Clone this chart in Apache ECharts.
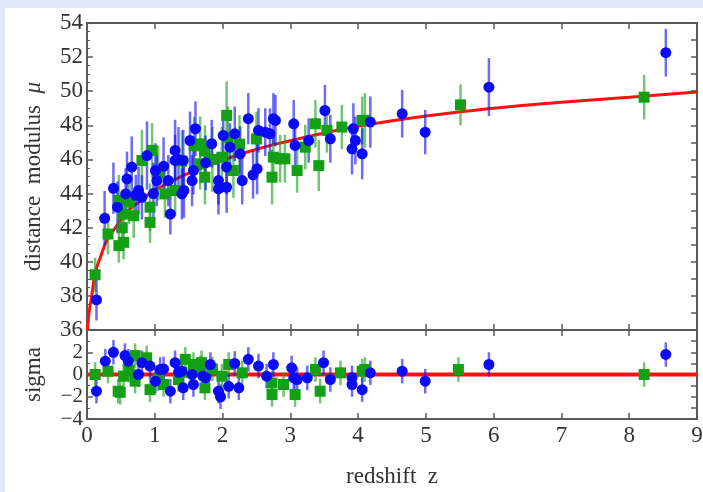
<!DOCTYPE html>
<html>
<head>
<meta charset="utf-8">
<script src="https://cdn.jsdelivr.net/npm/echarts@6/dist/echarts.min.js"></script>
<style>
	body { margin: 0; background: #e0e8f8; }
	#main { width: 703px; height: 492px; }
</style>
</head>
<body>
<div id="main"></div>
<script>
// 上图：距离模数  z / mu / err
var blueTopZ   = [0.14, 0.26, 0.39, 0.45, 0.57, 0.59, 0.66, 0.76, 0.72, 0.81, 0.885, 0.98, 1.01, 1.03, 1.13, 1.20, 1.23, 1.30, 1.30, 1.35, 1.40, 1.42, 1.43, 1.52, 1.55, 1.57, 1.60, 1.75, 1.84, 1.94, 1.94, 2.01, 2.06, 2.06, 2.11, 2.18, 2.26, 2.29, 2.38, 2.45, 2.51, 2.53, 2.63, 2.70, 2.75, 2.78, 3.05, 3.07, 3.27, 3.51, 3.59, 3.93, 3.96, 3.91, 4.06, 4.18, 4.65, 4.99, 5.93, 8.54];
var blueTopMu  = [37.76, 42.55, 44.31, 43.2, 43.98, 44.86, 45.55, 44.18, 43.9, 43.78, 46.23, 44.0, 45.35, 44.76, 45.6, 44.76, 42.8, 46.53, 45.94, 46.0, 43.98, 45.94, 44.18, 47.11, 44.76, 45.35, 47.8, 45.8, 46.92, 44.76, 44.27, 47.41, 45.55, 44.37, 46.72, 47.5, 46.33, 44.76, 48.39, 45.1, 45.45, 47.7, 47.6, 47.5, 48.39, 48.29, 48.09, 46.82, 47.11, 48.87, 47.21, 47.8, 47.11, 46.62, 46.33, 48.19, 48.68, 47.6, 50.24, 52.26];
var blueTopErr = [1.2, 1.6, 1.5, 1.5, 1.5, 1.6, 1.8, 1.4, 1.2, 1.3, 2.0, 1.8, 1.6, 1.5, 1.7, 1.5, 1.2, 1.8, 1.5, 1.9, 1.5, 1.8, 1.6, 1.7, 1.5, 1.4, 1.6, 1.6, 1.4, 1.4, 1.5, 1.5, 1.6, 1.5, 1.4, 1.6, 1.6, 1.4, 1.5, 1.4, 1.5, 1.3, 1.4, 1.5, 1.5, 1.5, 1.4, 1.3, 1.3, 1.5, 1.4, 1.5, 1.4, 1.5, 1.5, 1.5, 1.4, 1.3, 1.7, 1.4];

var greenTopZ   = [0.12, 0.31, 0.47, 0.47, 0.54, 0.52, 0.54, 0.62, 0.69, 0.81, 0.93, 0.93, 0.96, 1.05, 1.15, 1.30, 1.40, 1.58, 1.67, 1.67, 1.74, 1.74, 1.85, 2.06, 1.99, 2.16, 2.08, 2.25, 2.50, 2.75, 2.73, 2.85, 2.92, 3.10, 3.22, 3.37, 3.54, 3.42, 3.76, 4.06, 4.10, 5.51, 8.22];
var greenTopMu  = [39.24, 41.63, 43.6, 40.95, 41.14, 42.0, 42.8, 43.5, 42.7, 45.94, 42.31, 43.2, 46.53, 45.2, 43.98, 44.18, 45.9, 46.8, 46.91, 45.74, 44.96, 46.5, 46.0, 48.58, 46.13, 45.35, 47.3, 46.9, 47.2, 46.13, 44.96, 46.04, 46.04, 45.35, 46.72, 48.09, 47.7, 45.64, 47.9, 48.29, 48.29, 49.2, 49.65];
var greenTopErr = [1.0, 1.2, 1.5, 1.0, 1.0, 1.2, 1.2, 1.3, 1.3, 1.8, 1.2, 1.4, 1.6, 1.6, 1.4, 1.5, 1.8, 1.7, 1.6, 1.5, 1.6, 1.5, 1.9, 2.0, 1.8, 1.6, 1.8, 1.7, 1.6, 1.5, 1.6, 1.4, 1.4, 1.3, 1.3, 1.4, 1.3, 1.5, 1.3, 1.4, 1.6, 1.2, 1.3];

// 红线：拟合曲线
var modelZ  = [0.005, 0.03, 0.07, 0.12, 0.2, 0.3, 0.42, 0.6, 0.8, 1.0, 1.5, 2.0, 2.5, 3.0, 3.5, 4.0, 5.0, 6.0, 7.0, 8.0, 9.0];
var modelMu = [36.0, 37.0, 38.0, 39.3, 40.3, 41.3, 42.0, 42.95, 43.6, 44.2, 45.2, 45.95, 46.6, 47.1, 47.55, 47.95, 48.55, 49.0, 49.35, 49.65, 49.95];

// 下图：sigma
var blueSigZ = [0.14, 0.27, 0.39, 0.56, 0.61, 0.76, 0.81, 0.93, 1.01, 1.08, 1.13, 1.23, 1.30, 1.35, 1.40, 1.42, 1.55, 1.57, 1.71, 1.75, 1.82, 1.94, 1.97, 2.09, 2.18, 2.24, 2.38, 2.53, 2.65, 2.75, 3.02, 3.05, 3.10, 3.25, 3.49, 3.59, 3.91, 3.91, 4.06, 4.18, 4.65, 4.99, 5.93, 8.54];
var blueSig  = [-1.5, 1.2, 2.0, 1.7, 1.2, 0.0, 1.06, 0.76, -0.6, 0.45, 0.5, -1.5, 1.06, 0.2, 0.3, -1.2, 0.0, -0.9, -0.15, -0.3, 0.9, -1.5, -2.0, -1.06, 1.0, -1.2, 1.36, 0.76, -0.15, 0.9, 0.6, -0.3, -0.45, -0.3, 1.06, -0.45, -0.9, -0.3, -1.36, 0.15, 0.3, -0.6, 0.9, 1.8];
var greenSigZ = [0.12, 0.31, 0.46, 0.49, 0.54, 0.62, 0.71, 0.71, 0.88, 0.93, 1.05, 1.13, 1.35, 1.40, 1.45, 1.57, 1.67, 1.69, 1.74, 1.85, 1.99, 2.09, 2.29, 2.73, 2.73, 2.90, 3.07, 3.37, 3.44, 3.74, 4.06, 4.10, 5.48, 8.22];
var greenSig  = [0.0, 0.3, -1.5, -1.6, -0.15, 0.4, 1.7, -0.6, 1.5, -1.36, -0.4, -0.9, -0.45, 0.2, 1.36, 0.9, 0.6, 1.06, -1.2, 0.5, -0.15, 0.9, 0.15, -0.76, -1.8, -0.9, -1.8, 0.45, -1.5, 0.15, 0.3, 0.45, 0.45, 0.0];
var sigmaErr = 1.1;
var sigmaLabels = [-4, -2, 0, 2];

var xTicks = [0, 1, 2, 3, 4, 5, 6, 7, 8, 9];

function pack3(a, b, c) {
	var out = [];
	for (var i = 0; i < a.length; i++) {
		out.push([a[i], b[i], typeof c === 'number' ? c : c[i]]);
	}
	return out;
}

var blueTop = pack3(blueTopZ, blueTopMu, blueTopErr);
var greenTop = pack3(greenTopZ, greenTopMu, greenTopErr);
var blueSigData = pack3(blueSigZ, blueSig, sigmaErr);
var greenSigData = pack3(greenSigZ, greenSig, sigmaErr);
var modelData = modelZ.map(function (z, i) { return [z, modelMu[i]]; });

var BLUE = '#0a0af5';
var GREEN = '#14a014';
var FRAME = '#5a5a5a';
var TEXT = '#333';
var FONT = '"Liberation Serif", "DejaVu Serif", serif';

// 误差棒
function errBars(data, color, xi, yi) {
	return {
		type: 'custom',
		xAxisIndex: xi,
		yAxisIndex: yi,
		data: data,
		z: 3,
		renderItem: function (params, api) {
			var z = api.value(0), v = api.value(1), e = api.value(2);
			var p1 = api.coord([z, v - e]);
			var p2 = api.coord([z, v + e]);
			return {
				type: 'line',
				shape: { x1: p1[0], y1: p1[1], x2: p2[0], y2: p2[1] },
				style: { stroke: color, lineWidth: 2.5, opacity: 0.6 }
			};
		},
		encode: { x: 0, y: 1 }
	};
}

function dots(data, color, symbol, xi, yi) {
	return {
		type: 'scatter',
		xAxisIndex: xi,
		yAxisIndex: yi,
		data: data,
		symbol: symbol,
		symbolSize: 11,
		itemStyle: { color: color, opacity: 1 },
		encode: { x: 0, y: 1 },
		z: 4
	};
}

function xAx(grid, pos, labels) {
	return {
		type: 'value', gridIndex: grid, position: pos, min: 0, max: 9, interval: 1,
		axisLine: { show: true, onZero: false, lineStyle: { color: FRAME, width: 2 } },
		axisTick: { show: true, inside: true, length: 6, lineStyle: { color: FRAME, width: 1.5 } },
		axisLabel: { show: labels, color: TEXT, fontSize: 23, fontFamily: FONT, margin: 5,
			showMinLabel: true, showMaxLabel: true,
			formatter: function (v) { return xTicks.indexOf(v) >= 0 ? String(v) : ''; } },
		splitLine: { show: false }
	};
}

function yAx(grid, pos, min, max, interval, labels, minorSplit) {
	return {
		type: 'value', gridIndex: grid, position: pos, min: min, max: max, interval: interval,
		axisLine: { show: true, onZero: false, lineStyle: { color: FRAME, width: 2 } },
		axisTick: { show: true, inside: true, length: 6, lineStyle: { color: FRAME, width: 1.5 } },
		minorTick: { show: minorSplit > 0, splitNumber: minorSplit || 1, length: 3, lineStyle: { color: FRAME, width: 1 } },
		axisLabel: { show: labels, color: TEXT, fontSize: 23, fontFamily: FONT, margin: 4,
			showMinLabel: true, showMaxLabel: true, hideOverlap: false },
		splitLine: { show: false }
	};
}

var myChart = echarts.init(document.getElementById('main'));

var yTop = yAx(0, 'left', 36, 54, 2, true, 4);
yTop.name = 'distance  modulus  {i|\u03bc}';
yTop.nameLocation = 'middle';
yTop.nameGap = 42;
yTop.nameTextStyle = { color: TEXT, fontSize: 23, fontFamily: FONT,
	rich: { i: { fontStyle: 'italic', color: TEXT, fontSize: 23, fontFamily: FONT } } };

var ySig = yAx(1, 'left', -4, 4, 2, true, 2);
ySig.axisLabel.customValues = sigmaLabels;
ySig.axisLabel.fontSize = 21;
ySig.axisLabel.formatter = function (v) {
	return v < 0 ? '\u2212' + (-v) : String(v);
};
ySig.name = 'sigma';
ySig.nameLocation = 'middle';
ySig.nameGap = 42;
ySig.nameTextStyle = { color: TEXT, fontSize: 23, fontFamily: FONT };

var xBottom = xAx(1, 'bottom', true);
xBottom.name = 'redshift  z';
xBottom.nameLocation = 'middle';
xBottom.nameGap = 46;
xBottom.nameTextStyle = { color: TEXT, fontSize: 23, fontFamily: FONT };

var option = {
	animation: false,
	backgroundColor: '#e0e8f8',
	graphic: {
		z: -10,
		elements: [{ type: 'rect', left: 5, top: 8, z: -10, shape: { width: 698, height: 484 }, style: { fill: '#fff' } }]
	},
	grid: [
		{ left: 87, top: 23, width: 610, height: 307, outerBoundsMode: 'none' },
		{ left: 87, top: 330, width: 610, height: 89, outerBoundsMode: 'none' }
	],
	xAxis: [
		xAx(0, 'bottom', false),
		xAx(0, 'top', false),
		xBottom,
		xAx(1, 'top', false)
	],
	yAxis: [
		yTop,
		yAx(0, 'right', 36, 54, 1, false, 0),
		ySig,
		yAx(1, 'right', -4, 4, 1, false, 0)
	],
	series: [
		{
			type: 'line', xAxisIndex: 0, yAxisIndex: 0, data: modelData, smooth: true,
			showSymbol: false, lineStyle: { color: '#ff1010', width: 3 }, z: 2
		},
		{
			type: 'line', xAxisIndex: 2, yAxisIndex: 2, data: [[0, 0], [9, 0]],
			showSymbol: false, lineStyle: { color: '#ff1010', width: 4 }, z: 2
		},
		errBars(greenTop, GREEN, 0, 0),
		errBars(blueTop, BLUE, 0, 0),
		errBars(greenSigData, GREEN, 2, 2),
		errBars(blueSigData, BLUE, 2, 2),
		dots(greenTop, GREEN, 'rect', 0, 0),
		dots(blueTop, BLUE, 'circle', 0, 0),
		dots(greenSigData, GREEN, 'rect', 2, 2),
		dots(blueSigData, BLUE, 'circle', 2, 2)
	]
};

myChart.setOption(option);
</script>
</body>
</html>
